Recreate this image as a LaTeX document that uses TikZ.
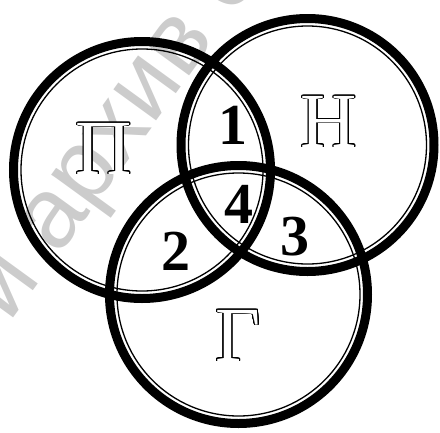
\documentclass[tikz,border=0pt]{standalone}
\usepackage{fontspec}
\setmainfont{Liberation Serif}
\newfontfamily\wmfont{Liberation Sans}
\usepackage{contour}
\contourlength{0.9pt}
\contournumber{32}
\newcommand\hollowtxt[1]{\contour{black}{\textcolor{white}{#1}}}
\begin{document}
\begin{tikzpicture}[x=1pt,y=-1pt,
  ring/.style={line width=9pt},
  innerline/.style={line width=1.3pt},
  big/.style={inner sep=0pt,font=\fontsize{78}{78}\selectfont},
  num/.style={inner sep=0pt,font=\fontsize{58}{58}\selectfont\bfseries},
  wm/.style={inner sep=0pt,text=black!20,font=\fontsize{100}{100}\selectfont\wmfont}]
\useasboundingbox (0,0) rectangle (440,432);
\begin{scope}
\clip (0,0) rectangle (440,432);
\node[wm,rotate=54] (wmk) at (114,134) {й архив с};
\end{scope}
\coordinate (cP) at (142,170);
\coordinate (cN) at (307.5,145);
\coordinate (cG) at (238.5,294.5);
\draw[ring] (cP) circle[radius=128.5pt];
\draw[ring] (cN) circle[radius=126.5pt];
\draw[ring] (cG) circle[radius=129pt];
\draw[innerline] (cP) circle[radius=121pt];
\draw[innerline] (cN) circle[radius=119pt];
\draw[innerline] (cG) circle[radius=121.5pt];
\node[big] (lP) at (104,149) {\hollowtxt{П}};
\node[big] (lN) at (329,122) {\hollowtxt{Н}};
\node[big] (lG) at (238,336) {\hollowtxt{Г}};
\node[num] (n1) at (232.5,125.5) {1};
\node[num] (n2) at (175.5,251) {2};
\node[num] (n3) at (295,236.5) {3};
\node[num] (n4) at (239,204) {4};
\end{tikzpicture}
\end{document}
